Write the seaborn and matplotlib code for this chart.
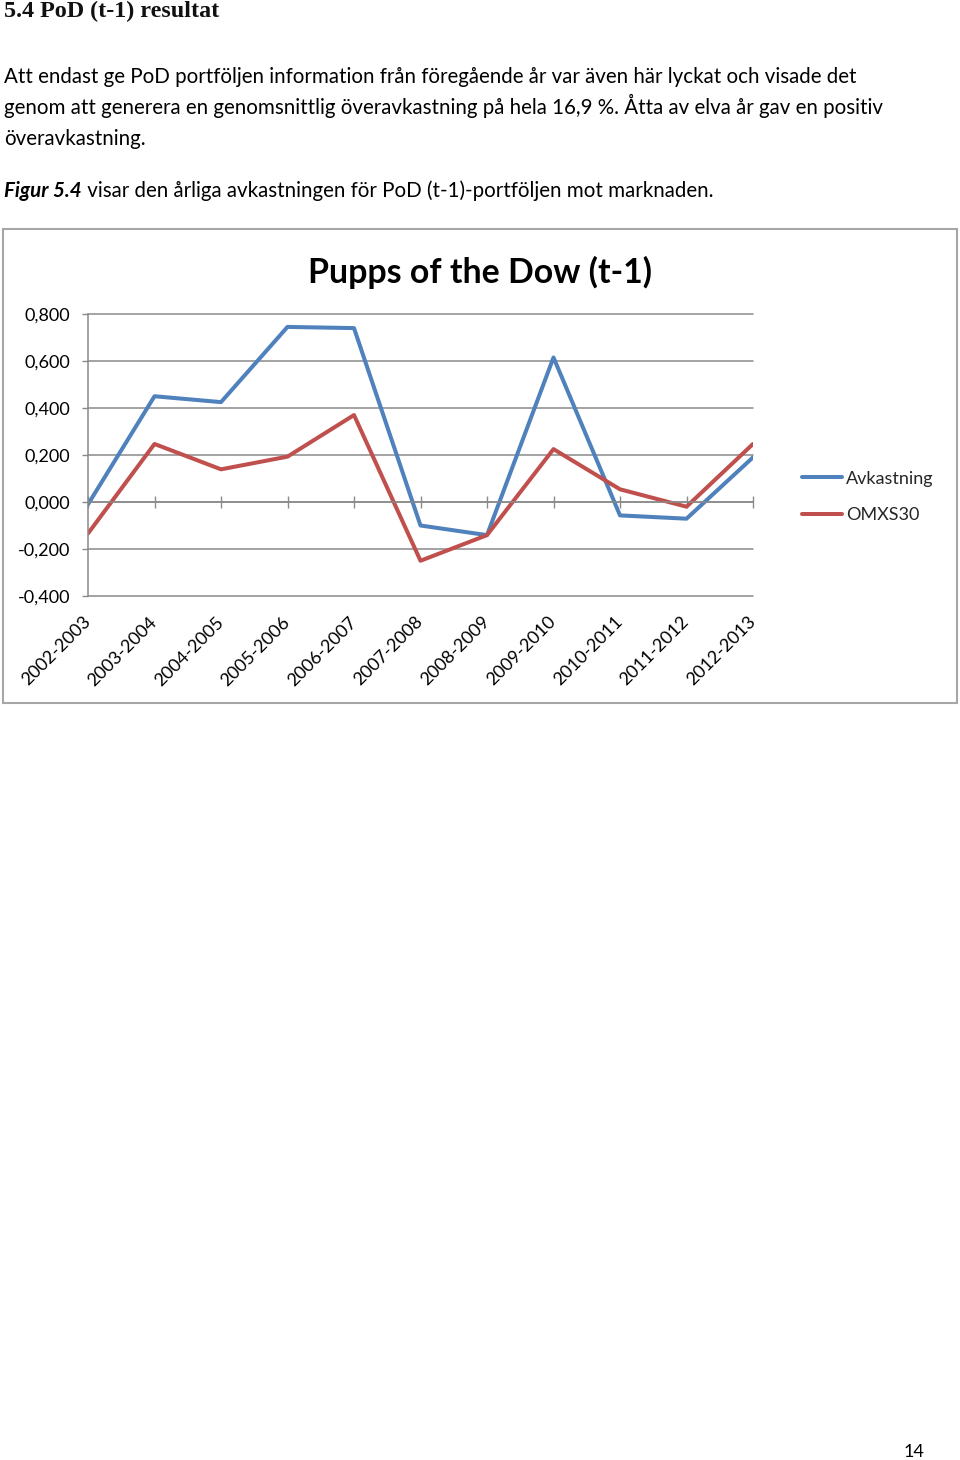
import numpy as np
import pandas as pd
import matplotlib
matplotlib.use("Agg")
import matplotlib.pyplot as plt
import seaborn as sns
from matplotlib.patches import Rectangle
from matplotlib.lines import Line2D
from matplotlib.ticker import FuncFormatter

# ---------------- data ----------------
years = ["2002-2003", "2003-2004", "2004-2005", "2005-2006", "2006-2007",
         "2007-2008", "2008-2009", "2009-2010", "2010-2011", "2011-2012",
         "2012-2013"]
avkastning = [-0.010, 0.450, 0.425, 0.745, 0.740, -0.100, -0.141,
              0.615, -0.057, -0.071, 0.190]
omxs30 = [-0.134, 0.247, 0.139, 0.193, 0.370, -0.250, -0.141,
          0.225, 0.054, -0.020, 0.247]
series_names = ["Avkastning", "OMXS30"]
y_ticks = [-0.4, -0.2, 0.0, 0.2, 0.4, 0.6, 0.8]

header = "5.4 PoD (t-1) resultat"
body_lines = [
    "Att endast ge PoD portföljen information från föregående år var även här lyckat och visade det",
    "genom att generera en genomsnittlig överavkastning på hela 16,9 %. Åtta av elva år gav en positiv",
    "överavkastning.",
]
fig_caption_bold = "Figur 5.4"
fig_caption_rest = " visar den årliga avkastningen för PoD (t-1)-portföljen mot marknaden."
chart_title = "Pupps of the Dow (t-1)"
page_number = "14"

# ---------------- style ----------------
W, H = 960, 1460
sns.set_theme(style="white")
plt.rcParams['font.family'] = ['Lato', 'DejaVu Sans']
GRID = "#8a8a8a"
BLUE = "#4F81BD"
RED = "#C0504D"
BODY_FS = 14.8

def fx(px):
    return px / W

def fy(px):
    return 1 - px / H

fig = plt.figure(figsize=(W / 100, H / 100), dpi=100)
fig.patch.set_facecolor("white")

# ---------------- page text ----------------
fig.text(fx(4), fy(17), header, family=['Liberation Serif', 'DejaVu Serif'],
         fontweight='bold', fontsize=17.4, color='#111111', ha='left', va='baseline')
for i, line in enumerate(body_lines):
    fig.text(fx(4), fy(83 + i * 31), line, fontsize=BODY_FS, color='black',
             ha='left', va='baseline')
t1 = fig.text(fx(4), fy(197), fig_caption_bold, fontsize=BODY_FS, fontweight='bold',
              fontstyle='italic', color='black', ha='left', va='baseline')
renderer = fig.canvas.get_renderer()
bb = t1.get_window_extent(renderer)
fig.text(bb.x1 / W, fy(197), fig_caption_rest, fontsize=BODY_FS, color='black',
         ha='left', va='baseline')
fig.text(fx(904), fy(1457), page_number, fontsize=13, color='black',
         ha='left', va='baseline')

# chart border
fig.add_artist(Rectangle((fx(3), fy(703)), (957 - 3) / W, (703 - 229) / H,
                         transform=fig.transFigure, fill=False,
                         edgecolor="#a6a6a6", linewidth=1.5))

# ---------------- chart ----------------
ax = fig.add_axes([fx(88), fy(596), fx(753) - fx(88), fy(314) - fy(596)])
ax.set_facecolor("white")

df = pd.DataFrame({
    "År": years * 2,
    "Värde": avkastning + omxs30,
    "Serie": [series_names[0]] * len(years) + [series_names[1]] * len(years),
})
palette = {series_names[0]: BLUE, series_names[1]: RED}
sns.lineplot(data=df, x="År", y="Värde", hue="Serie", palette=palette,
             sort=False, linewidth=2.9, legend=False, ax=ax)

ax.set_xlim(0, len(years) - 1)
ax.set_ylim(y_ticks[0], y_ticks[-1])
ax.set_yticks(y_ticks)
ax.yaxis.set_major_formatter(FuncFormatter(
    lambda v, p: f"{round(v, 3) + 0.0:.3f}".replace(".", ",")))
ax.set_xlabel("")
ax.set_ylabel("")

ax.grid(axis='y', color=GRID, linewidth=1.1)
ax.grid(axis='x', visible=False)
for gl in ax.yaxis.get_gridlines():
    gl.set_clip_on(False)

for s in ("top", "right"):
    ax.spines[s].set_visible(False)
ax.spines["left"].set_color(GRID)
ax.spines["left"].set_linewidth(1.1)
ax.spines["bottom"].set_position(("data", 0))
ax.spines["bottom"].set_color(GRID)
ax.spines["bottom"].set_linewidth(1.1)

ax.set_xticks(range(len(years)))
ax.set_xticklabels(years)
ax.tick_params(axis='x', direction='inout', length=9, width=1, color=GRID,
               pad=80, labelsize=13, labelcolor='black', bottom=True)
for lab in ax.get_xticklabels():
    lab.set_rotation(45)
    lab.set_ha('right')
    lab.set_va('center')
    lab.set_rotation_mode('anchor')
ax.tick_params(axis='y', direction='out', length=4.3, width=1, color=GRID,
               pad=8.6, labelsize=13, labelcolor='black', left=True)

fig.text(fx(480), fy(283), chart_title, fontsize=24.4, fontweight='bold',
         color='black', ha='center', va='baseline')

handles = [Line2D([0], [0], color=palette[n], linewidth=2.9) for n in series_names]
fig.legend(handles, series_names, loc='center left',
           bbox_to_anchor=(fx(802), fy(497)), bbox_transform=fig.transFigure,
           frameon=False, fontsize=13, handlelength=2.2, handletextpad=0.25,
           labelspacing=1.15, borderpad=0, borderaxespad=0)

fig.savefig("out.png", dpi=100)
